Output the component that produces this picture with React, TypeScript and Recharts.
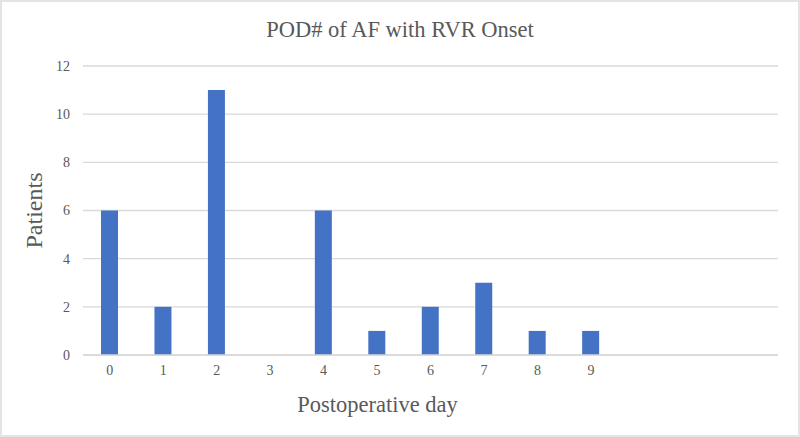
import React from "react";
import { BarChart, Bar, XAxis, YAxis, CartesianGrid, Label } from "recharts";

const days: string[] = ["0", "1", "2", "3", "4", "5", "6", "7", "8", "9", "", "", ""];
const patients: (number | null)[] = [6, 2, 11, 0, 6, 1, 2, 3, 1, 1, null, null, null];
const yTicks: number[] = [0, 2, 4, 6, 8, 10, 12];
const title = "POD# of AF with RVR Onset";
const xLabel = "Postoperative day";
const yLabel = "Patients";

const data = days.map((d, i) => ({ idx: i, day: d, patients: patients[i] }));

const FONT = "'Liberation Serif', 'Times New Roman', serif";
const GREY = "#595959";

export default function App() {
  return (
    <div
      style={{
        position: "absolute",
        left: 0,
        top: 0,
        width: 800,
        height: 437,
        boxSizing: "border-box",
        border: "2px solid #e4e4e4",
        background: "#fff",
        fontFamily: FONT,
      }}
    >
      <div
        style={{
          position: "absolute",
          left: 0,
          top: 16,
          width: 796,
          textAlign: "center",
          fontSize: 22.5,
          color: GREY,
          lineHeight: "24px",
        }}
      >
        {title}
      </div>
      <div style={{ position: "absolute", left: -2, top: -2 }}>
        <BarChart
          width={800}
          height={437}
          data={data}
          margin={{ top: 66, right: 22, bottom: 52, left: 0 }}
          barSize={17}
        >
          <CartesianGrid vertical={false} stroke="#d9d9d9" strokeWidth={1.3} />
          <XAxis
            dataKey="idx"
            type="category"
            height={30}
            tickFormatter={(v: number) => days[v]}
            axisLine={{ stroke: "#d9d9d9", strokeWidth: 1.3 }}
            tickLine={false}
            tickSize={0}
            tickMargin={10}
            interval={0}
            tick={{ fill: GREY, fontSize: 14, fontFamily: FONT }}
          >
            <Label
              value={xLabel}
              position="insideBottom"
              offset={-27}
              dx={-53}
              style={{ fill: GREY, fontSize: 22.5, fontFamily: FONT }}
            />
          </XAxis>
          <YAxis
            width={83}
            domain={[0, 12]}
            ticks={yTicks}
            axisLine={false}
            tickLine={false}
            tickSize={0}
            tickMargin={13}
            tick={{ fill: GREY, fontSize: 14, fontFamily: FONT }}
          >
            <Label
              value={yLabel}
              angle={-90}
              position="insideLeft"
              offset={0}
              dx={33}
              style={{ fill: GREY, fontSize: 24, fontFamily: FONT, textAnchor: "middle" }}
            />
          </YAxis>
          <Bar dataKey="patients" fill="#4472c4" isAnimationActive={false} />
        </BarChart>
      </div>
    </div>
  );
}
